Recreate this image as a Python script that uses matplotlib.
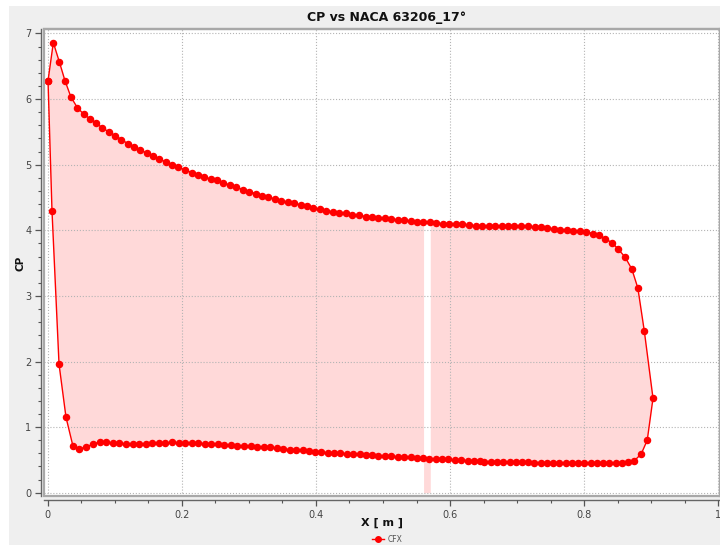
import numpy as np
import matplotlib
matplotlib.use("Agg")
import matplotlib.pyplot as plt
import matplotlib.ticker as mticker
from matplotlib.patches import Rectangle
from matplotlib.lines import Line2D

# ── Data ─────────────────────────────────────────────────────────────────────
# upper surface, leading edge -> trailing edge
upper_x = [0.0005, 0.0084, 0.0173, 0.0258, 0.0347, 0.0442, 0.0537, 0.063, 0.072, 0.0814,
           0.0914, 0.1008, 0.110, 0.1198, 0.129, 0.138, 0.1476, 0.1575, 0.1665, 0.176,
           0.1854, 0.195, 0.2047, 0.2147, 0.224, 0.2335, 0.243, 0.2525, 0.262, 0.272,
           0.281, 0.291, 0.300, 0.310, 0.320, 0.329, 0.3385, 0.348, 0.358, 0.367,
           0.377, 0.387, 0.396, 0.406, 0.4155, 0.4255, 0.435, 0.445, 0.454, 0.464,
           0.474, 0.483, 0.493, 0.503, 0.512, 0.522, 0.531, 0.541, 0.551, 0.560,
           0.570, 0.5795, 0.589, 0.599, 0.609, 0.618, 0.628, 0.638, 0.648, 0.658,
           0.667, 0.677, 0.687, 0.696, 0.706, 0.716, 0.726, 0.736, 0.745, 0.755,
           0.764, 0.774, 0.784, 0.793, 0.803, 0.813, 0.822, 0.8315, 0.8416, 0.851,
           0.861, 0.871, 0.880]
upper_y = [6.28, 6.86, 6.57, 6.28, 6.03, 5.87, 5.77, 5.70, 5.64, 5.56,
           5.50, 5.44, 5.38, 5.32, 5.27, 5.22, 5.18, 5.13, 5.09, 5.04,
           5.00, 4.96, 4.92, 4.88, 4.85, 4.81, 4.78, 4.76, 4.72, 4.69,
           4.66, 4.62, 4.59, 4.56, 4.53, 4.50, 4.48, 4.45, 4.43, 4.41,
           4.39, 4.37, 4.34, 4.32, 4.30, 4.28, 4.27, 4.26, 4.24, 4.23,
           4.21, 4.20, 4.19, 4.18, 4.17, 4.16, 4.15, 4.14, 4.13, 4.13,
           4.12, 4.11, 4.10, 4.09, 4.09, 4.09, 4.08, 4.07, 4.07, 4.07,
           4.07, 4.07, 4.07, 4.07, 4.06, 4.06, 4.05, 4.05, 4.03, 4.02,
           4.00, 4.00, 3.99, 3.985, 3.98, 3.95, 3.93, 3.87, 3.81, 3.71,
           3.59, 3.41, 3.12]

# trailing edge
te_x = [0.8897, 0.9026, 0.894, 0.885, 0.875]
te_y = [2.46, 1.44, 0.80, 0.59, 0.49]

# lower surface, trailing edge -> leading edge
lower_x = [0.866, 0.8564, 0.847, 0.837, 0.8285, 0.819, 0.810, 0.800, 0.791, 0.7818,
           0.7724, 0.7629, 0.7539, 0.7446, 0.7352, 0.7256, 0.7167, 0.7073, 0.6979, 0.6889,
           0.6794, 0.670, 0.6606, 0.651, 0.644, 0.635, 0.626, 0.616, 0.607, 0.597,
           0.588, 0.5786, 0.569, 0.560, 0.550, 0.541, 0.531, 0.522, 0.512, 0.5026,
           0.493, 0.484, 0.474, 0.465, 0.455, 0.446, 0.436, 0.427, 0.4175, 0.408,
           0.3986, 0.389, 0.380, 0.370, 0.361, 0.351, 0.3415, 0.332, 0.3225, 0.3126,
           0.3027, 0.293, 0.283, 0.2733, 0.2633, 0.254, 0.244, 0.234, 0.2246, 0.2147,
           0.2047, 0.1953, 0.1854, 0.1754, 0.1655, 0.156, 0.146, 0.136, 0.1267, 0.1168,
           0.1068, 0.097, 0.0874, 0.0775, 0.0675, 0.0576, 0.047]
lower_y = [0.47, 0.46, 0.457, 0.45, 0.45, 0.45, 0.45, 0.45, 0.45, 0.45,
           0.45, 0.45, 0.455, 0.455, 0.46, 0.46, 0.465, 0.465, 0.47, 0.47,
           0.47, 0.475, 0.475, 0.475, 0.479, 0.483, 0.488, 0.50, 0.503, 0.509,
           0.514, 0.514, 0.518, 0.529, 0.534, 0.54, 0.544, 0.549, 0.555, 0.56,
           0.564, 0.57, 0.575, 0.585, 0.59, 0.595, 0.60, 0.605, 0.61, 0.62,
           0.625, 0.636, 0.646, 0.65, 0.656, 0.666, 0.677, 0.69, 0.70, 0.70,
           0.707, 0.712, 0.716, 0.722, 0.732, 0.738, 0.742, 0.747, 0.753, 0.758,
           0.762, 0.762, 0.768, 0.758, 0.753, 0.753, 0.747, 0.742, 0.742, 0.742,
           0.753, 0.758, 0.773, 0.773, 0.74, 0.70, 0.666]

# leading edge closure
le_x = [0.0377, 0.0273, 0.0169, 0.0064]
le_y = [0.71, 1.15, 1.96, 4.30]

# strip where the CFX fill renders inverted
gap_x = [0.5605, 0.5705]

# ── Style ────────────────────────────────────────────────────────────────────
RED = "#ff0000"
PINK = "#ffd9d9"
BG = "#efefef"
FRAME = "#a8a8a8"

x_cfx = np.array(upper_x + te_x + lower_x + le_x + upper_x[:1])
y_cfx = np.array(upper_y + te_y + lower_y + le_y + upper_y[:1])

fig = plt.figure(figsize=(7.2, 5.45), dpi=100, facecolor="white")
fig.patches.append(Rectangle((9 / 720, 0), 1, 1 - 6 / 545, transform=fig.transFigure,
                             facecolor=BG, edgecolor="none", zorder=-10))

ax = fig.add_axes([44 / 720, 49 / 545, 676 / 720, 467 / 545])
ax.set_facecolor("white")

ax.fill(x_cfx, y_cfx, color=PINK, lw=0, zorder=1)

# inverted strip
gx = np.array(gap_x)
g_up = np.interp(gx, upper_x, upper_y)
g_lo = np.interp(gx, lower_x[::-1], lower_y[::-1])
ax.fill_between(gx, g_lo, g_up, color="white", lw=0, zorder=1)
ax.fill_between(gx, 0, g_lo, color=PINK, lw=0, zorder=1)

ax.plot(x_cfx, y_cfx, color=RED, lw=1.0, marker="o", ms=4.4, mec=RED, mfc=RED,
        zorder=3, label="CFX")

ax.set_xlim(-0.0055, 1.0025)
ax.set_ylim(-0.05, 7.068)

ax.xaxis.set_major_locator(mticker.MultipleLocator(0.2))
ax.xaxis.set_minor_locator(mticker.MultipleLocator(0.05))
ax.yaxis.set_major_locator(mticker.MultipleLocator(1))
ax.yaxis.set_minor_locator(mticker.MultipleLocator(0.2))
ax.xaxis.set_major_formatter(mticker.FuncFormatter(lambda v, p: f"{v:g}"))
ax.yaxis.set_major_formatter(mticker.FuncFormatter(lambda v, p: f"{v:g}"))

ax.grid(True, which="major", ls=":", color="#b4b4b4", lw=0.8, zorder=2)
ax.set_axisbelow(False)

ax.tick_params(which="major", direction="out", length=4, width=0.9, color="#555555",
               labelsize=7, labelcolor="#444444", pad=3)
ax.tick_params(which="minor", direction="out", length=2.5, width=0.8, color="#555555")
ax.tick_params(top=False, right=False)

for side in ("top", "right"):
    ax.spines[side].set_color(FRAME)
    ax.spines[side].set_linewidth(1.6)
ax.spines["left"].set_position(("outward", 2))
ax.spines["bottom"].set_position(("outward", 3))
for side in ("left", "bottom"):
    ax.spines[side].set_color("#666666")
    ax.spines[side].set_linewidth(1.0)

ax.add_patch(Rectangle((0, 0), 1, 1, transform=ax.transAxes, fill=False,
                       ec=FRAME, lw=1.6, clip_on=False, zorder=4))

fig.text(387 / 720, 1 - 17 / 545, "CP vs NACA 63206_17°", ha="center", va="center",
         fontsize=9, fontweight="bold", color="#111111")
fig.text(20 / 720, 1 - 263 / 545, "CP", ha="center", va="center", rotation=90,
         fontsize=7.5, fontweight="bold", color="#111111")
fig.text(382 / 720, 1 - 523 / 545, "X [ m ]", ha="center", va="center",
         fontsize=8, fontweight="bold", color="#111111")

handle = Line2D([], [], color=RED, lw=1.0, marker="o", ms=4, mfc=RED, mec=RED)
fig.legend([handle], ["CFX"], loc="center", bbox_to_anchor=(387 / 720, 1 - 539 / 545),
           frameon=False, fontsize=5.5, handlelength=1.6, handletextpad=0.4,
           labelcolor="#555555")

fig.savefig("out.png", dpi=100, facecolor="white")
